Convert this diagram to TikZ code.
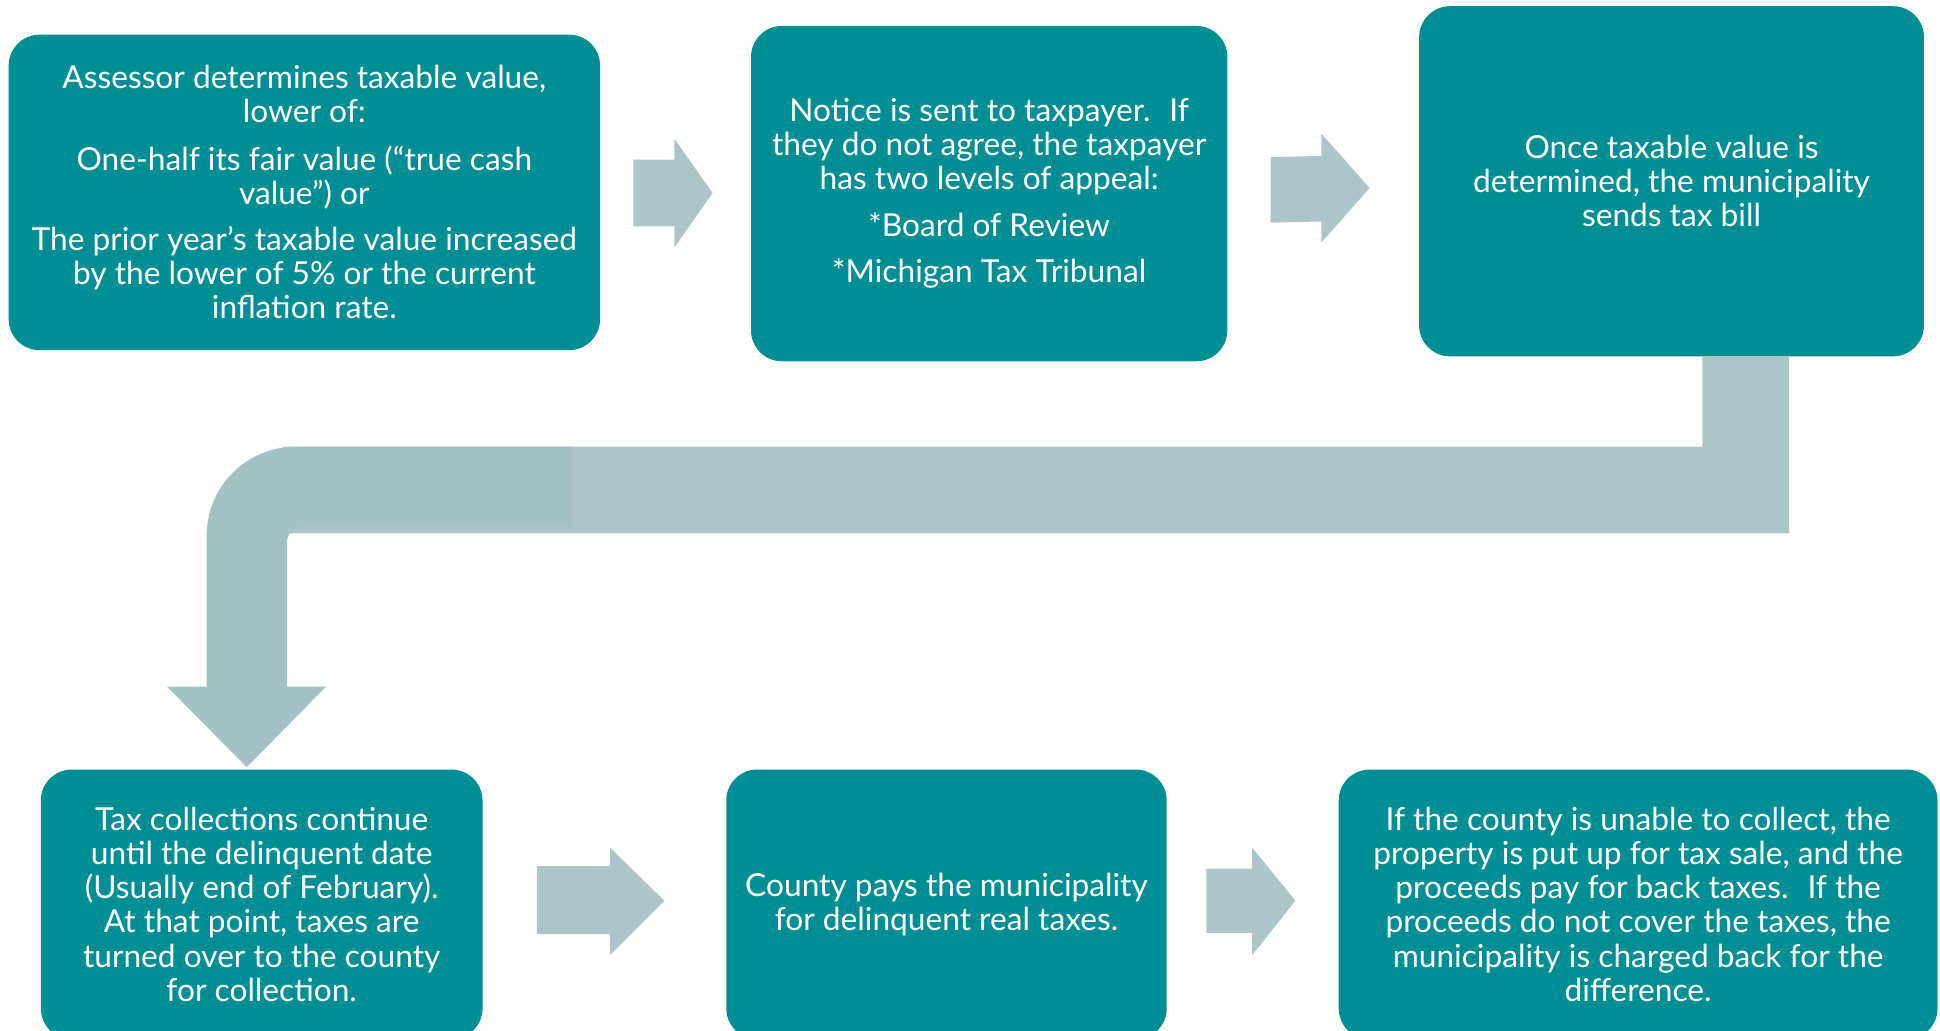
\documentclass[tikz,border=0pt]{standalone}
\usepackage{fontspec}
\setmainfont{Lato}
\definecolor{boxteal}{RGB}{0,142,149}
\definecolor{arrowgray}{RGB}{173,197,199}
\definecolor{bendgray}{RGB}{165,194,194}
\tikzset{
  stepbox/.style={fill=boxteal, rounded corners=25pt, text=white,
    align=center, inner sep=0pt,
    font=\fontsize{25.6}{27.5}\selectfont},
  blockarrow/.style={fill=arrowgray}
}
\begin{document}
\begin{tikzpicture}[x=1pt,y=-1pt]
  \useasboundingbox (0,0) rectangle (1568,833);
  \clip (0,0) rectangle (1568,833);
  % boxes, top row
  \node[stepbox, minimum width=478pt, minimum height=255pt] (assess) at (246,155.5)
    {Assessor determines taxable value,\\ lower of:\\[11pt]
     One-half its fair value (“true cash\\ value”) or\\[10pt]
     The prior year’s taxable value increased\\ by the lower of 5\% or the current\\ inflation rate.};
  \node[stepbox, minimum width=385pt, minimum height=271pt] (notice) at (799.5,156.5)
    {Notice is sent to taxpayer.~ If\\ they do not agree, the taxpayer\\ has two levels of appeal:\\[10pt]
     *Board of Review\\[10pt]
     *Michigan Tax Tribunal};
  \node[stepbox, minimum width=408pt, minimum height=283pt] (bill) at (1351,146.5)
    {Once taxable value is\\ determined, the municipality\\ sends tax bill};
  % boxes, bottom row
  \node[stepbox, minimum width=357pt, minimum height=218pt] (collect) at (211.5,731)
    {Tax collections continue\\ until the delinquent date\\ (Usually end of February).\\
     At that point, taxes are\\ turned over to the county\\ for collection.};
  \node[stepbox, minimum width=356pt, minimum height=218pt] (county) at (765,731)
    {County pays the municipality\\ for delinquent real taxes.};
  \node[stepbox, minimum width=484pt, minimum height=218pt] (sale) at (1324,731)
    {If the county is unable to collect, the\\ property is put up for tax sale, and the\\
     proceeds pay for back taxes.~ If the\\ proceeds do not cover the taxes, the\\
     municipality is charged back for the\\ difference.};
  % block arrows
  \begin{scope}[blockarrow]
    \fill (512,129) -- (545,129) -- (545,112) -- (576,156) -- (545,200) -- (545,183) -- (512,183) -- cycle;
    \fill (1027,127) -- (1068,126) -- (1068,108) -- (1107,152) -- (1068,196) -- (1068,179) -- (1027,180) -- cycle;
    \fill (434,700) -- (493,700) -- (493,685) -- (537,728) -- (493,772) -- (493,755) -- (434,755) -- cycle;
    \fill (975,702) -- (1012,702) -- (1012,685) -- (1047,728) -- (1012,772) -- (1012,754) -- (975,754) -- cycle;
    % bar from the tax bill back to the left
    \fill (1376,288) -- (1446,288) -- (1446,431) -- (229,431) -- (229,361) -- (1376,361) -- cycle;
  \end{scope}
  % bent arrow down to the collections
  \fill[bendgray] (462,361) -- (239,361) arc[start angle=270, end angle=180, radius=72]
    -- (167,555) -- (135,555) -- (199.5,620) -- (263.5,555) -- (232,555) -- (232,438)
    arc[start angle=180, end angle=270, radius=12] -- (462,426) -- cycle;
\end{tikzpicture}
\end{document}
